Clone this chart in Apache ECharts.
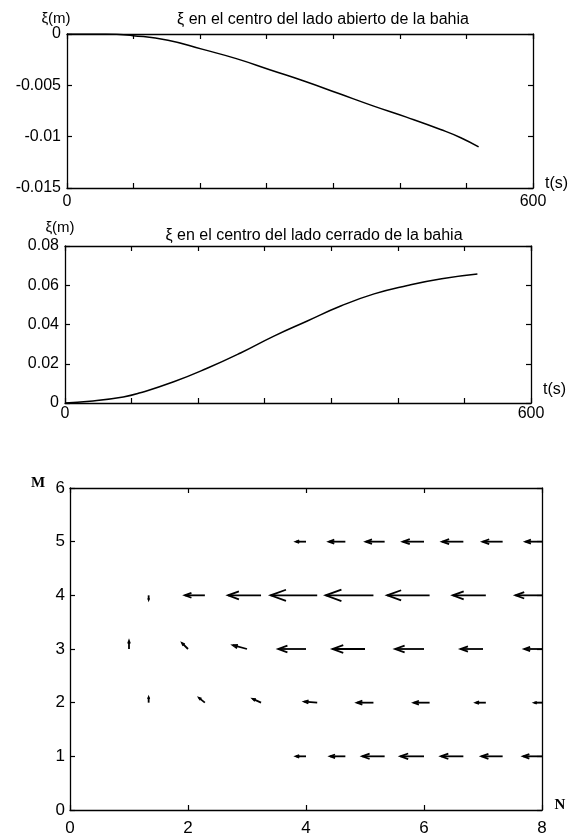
<!DOCTYPE html>
<html>
<head>
<meta charset="utf-8">
<script src="https://cdn.jsdelivr.net/npm/echarts@6/dist/echarts.min.js"></script>
<style>
html,body{margin:0;padding:0;background:#fff;}
#c{width:579px;height:837px;}
</style>
</head>
<body>
<div id="c"></div>
<script>
// ---- data: top panel (open side of the bay) ----
const tOpen  = [0, 50, 85, 130, 175, 218, 262, 306, 350, 394, 437, 481, 507, 530];
const xiOpen = [0, 0, -0.00016, -0.0006, -0.0015, -0.0024, -0.0035, -0.0046, -0.0058, -0.0070, -0.0081, -0.0093, -0.0101, -0.0110];
// ---- data: middle panel (closed side of the bay) ----
const tClosed  = [0, 32, 75, 97, 140, 183, 226, 269, 312, 355, 398, 441, 485, 531];
const xiClosed = [0, 0.0009, 0.0031, 0.0052, 0.0108, 0.0177, 0.0255, 0.0341, 0.0418, 0.0494, 0.0556, 0.0599, 0.0633, 0.0657];
// ---- data: velocity field (quiver) ----
const nRow15 = [4, 4.667, 5.333, 6, 6.667, 7.333, 8];
const nRow24 = [1.333, 2.286, 3.238, 4.190, 5.143, 6.095, 7.048, 8];
const nRow3  = [1, 2, 3, 4, 5, 6, 7, 8];
const uM1 = [-0.17, -0.26, -0.38, -0.40, -0.38, -0.36, -0.32];
const vM1 = [0, 0, 0, 0, 0, 0, 0];
const uM2 = [0, -0.10, -0.14, -0.22, -0.28, -0.27, -0.17, -0.13];
const vM2 = [0.10, 0.09, 0.07, 0.02, 0, 0, 0, 0];
const uM3 = [0, -0.10, -0.24, -0.47, -0.55, -0.49, -0.38, -0.30];
const vM3 = [0.15, 0.11, 0.07, 0, 0, 0, 0, 0];
const uM4 = [0, -0.34, -0.56, -0.79, -0.81, -0.72, -0.56, -0.45];
const vM4 = [-0.08, 0, 0, 0, 0, 0, 0, 0];
const uM5 = [-0.17, -0.28, -0.32, -0.36, -0.36, -0.34, -0.28];
const vM5 = [0, 0, 0, 0, 0, 0, 0];
// ---- tick labels ----
const tTickLabels = ['0', '600'];

function zip(a, b) { return a.map((v, i) => [v, b[i]]); }
function rowData(ns, m, us, vs) { return ns.map((n, i) => [n, m, us[i], vs[i]]); }
const quiverData = [].concat(
  rowData(nRow15, 1, uM1, vM1),
  rowData(nRow24, 2, uM2, vM2),
  rowData(nRow3, 3, uM3, vM3),
  rowData(nRow24, 4, uM4, vM4),
  rowData(nRow15, 5, uM5, vM5)
);

const FONT = '"Liberation Sans", Arial, Helvetica, sans-serif';
const SERIF = '"Liberation Serif", "Times New Roman", serif';
const black = '#000';

function xAx(grid, min, max, interval, pos, showLabel, fmt, fs, margin) {
  return {
    type: 'value', gridIndex: grid, min: min, max: max, interval: interval, position: pos,
    axisLine: { show: true, onZero: false, lineStyle: { color: black, width: 1.3 } },
    axisTick: { show: true, inside: true, length: 5, lineStyle: { color: black, width: 1.2 } },
    axisLabel: { show: showLabel, color: black, fontFamily: FONT, fontSize: fs, margin: margin, formatter: fmt,
                 showMinLabel: true, showMaxLabel: true },
    splitLine: { show: false }
  };
}
function yAx(grid, min, max, interval, pos, showLabel, fs, margin) {
  return {
    type: 'value', gridIndex: grid, min: min, max: max, interval: interval, position: pos,
    axisLine: { show: true, onZero: false, lineStyle: { color: black, width: 1.3 } },
    axisTick: { show: true, inside: true, length: 5, lineStyle: { color: black, width: 1.2 } },
    axisLabel: { show: showLabel, color: black, fontFamily: FONT, fontSize: fs, margin: margin },
    splitLine: { show: false }
  };
}
const tFmt = function (v) {
  if (Math.abs(v) < 1e-6) return tTickLabels[0];
  if (Math.abs(v - 600) < 0.01) return tTickLabels[1];
  return '';
};

function txt(x, y, s, font, align) {
  return { type: 'text', x: x, y: y, silent: true,
    style: { text: s, fill: black, font: font, align: align || 'center', verticalAlign: 'middle' } };
}

const chart = echarts.init(document.getElementById('c'), null, { renderer: 'canvas' });
chart.setOption({
  animation: false,
  backgroundColor: '#fff',
  grid: [
    { left: 67, top: 34, width: 466, height: 154 },
    { left: 65, top: 246, width: 466, height: 157 },
    { left: 70, top: 488, width: 472, height: 322 }
  ],
  xAxis: [
    xAx(0, 0, 600, 600 / 7, 'bottom', true, tFmt, 16, 6),
    xAx(0, 0, 600, 600 / 7, 'top', false, null, 16, 6),
    xAx(1, 0, 600, 600 / 7, 'bottom', true, tFmt, 16, 3),
    xAx(1, 0, 600, 600 / 7, 'top', false, null, 16, 6),
    xAx(2, 0, 8, 2, 'bottom', true, null, 17, 10),
    xAx(2, 0, 8, 2, 'top', false, null, 17, 6)
  ],
  yAxis: [
    yAx(0, -0.015, 0, 0.005, 'left', true, 16, 6),
    yAx(0, -0.015, 0, 0.005, 'right', false, 16, 6),
    yAx(1, 0, 0.08, 0.02, 'left', true, 16, 6),
    yAx(1, 0, 0.08, 0.02, 'right', false, 16, 6),
    yAx(2, 0, 6, 1, 'left', true, 17, 5),
    yAx(2, 0, 6, 1, 'right', false, 17, 5)
  ],
  graphic: [
    txt(323, 20, 'ξ en el centro del lado abierto de la bahia', '16px ' + FONT),
    txt(56, 19, 'ξ(m)', '15px ' + FONT),
    txt(545, 184, 't(s)', '16px ' + FONT, 'left'),
    txt(314, 236, 'ξ en el centro del lado cerrado de la bahia', '16px ' + FONT),
    txt(60, 228, 'ξ(m)', '15px ' + FONT),
    txt(543, 390, 't(s)', '16px ' + FONT, 'left'),
    txt(38, 483, 'M', 'bold 15px ' + SERIF),
    txt(560, 805, 'N', 'bold 15px ' + SERIF)
  ],
  series: [
    {
      type: 'line', xAxisIndex: 0, yAxisIndex: 0, data: zip(tOpen, xiOpen),
      smooth: 0.5, showSymbol: false, symbol: 'none',
      lineStyle: { color: black, width: 1.5 }
    },
    {
      type: 'line', xAxisIndex: 2, yAxisIndex: 2, data: zip(tClosed, xiClosed),
      smooth: 0.5, showSymbol: false, symbol: 'none',
      lineStyle: { color: black, width: 1.5 }
    },
    {
      type: 'custom', xAxisIndex: 4, yAxisIndex: 4, data: quiverData,
      encode: { x: 0, y: 1 },
      renderItem: function (params, api) {
        const x = api.value(0), y = api.value(1), u = api.value(2), v = api.value(3);
        const p0 = api.coord([x, y]);
        const p1 = api.coord([x + u, y + v]);
        const dx = p1[0] - p0[0], dy = p1[1] - p0[1];
        const L = Math.sqrt(dx * dx + dy * dy) || 1e-6;
        const ux = dx / L, uy = dy / L;
        const hl = 0.33 * L, hw = 0.12 * L;
        const b = [p1[0] - ux * hl, p1[1] - uy * hl];
        const h1 = [b[0] - uy * hw, b[1] + ux * hw];
        const h2 = [b[0] + uy * hw, b[1] - ux * hw];
        const st = { stroke: black, lineWidth: 1.8, fill: null };
        return {
          type: 'group',
          children: [
            { type: 'line', shape: { x1: p0[0], y1: p0[1], x2: p1[0], y2: p1[1] }, style: st },
            { type: 'polyline', shape: { points: [h1, p1, h2] }, style: st }
          ]
        };
      }
    }
  ]
});
</script>
</body>
</html>
